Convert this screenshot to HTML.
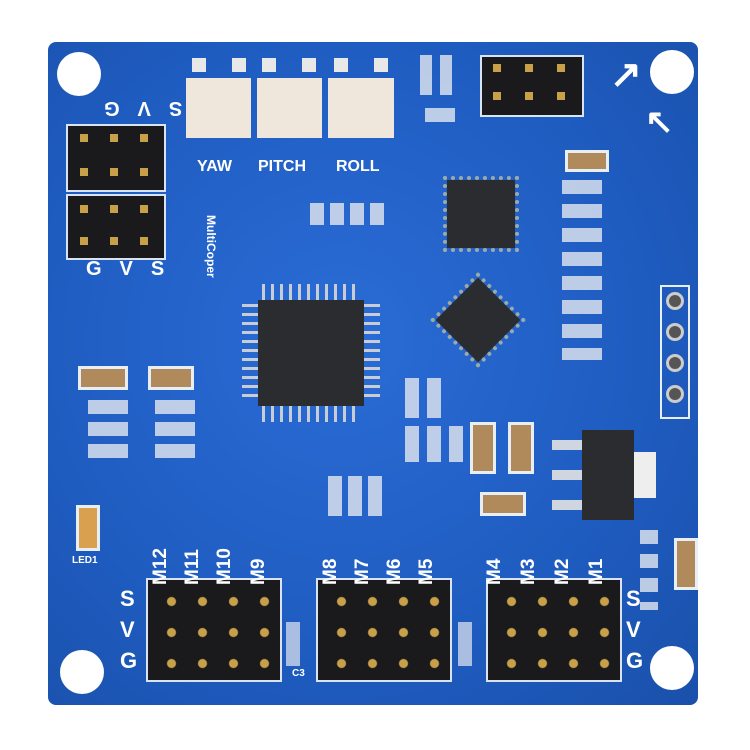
<!DOCTYPE html>
<html><head><style>
body{margin:0;background:#fff;}
#w{position:relative;width:750px;height:750px;overflow:hidden;background:#fff;font-family:"Liberation Sans",sans-serif;}
.a{position:absolute;}
.hole{position:absolute;width:44px;height:44px;border-radius:50%;background:#fff;}
.hdr{position:absolute;background:#1a1a1c;border:2px solid #d8e4f4;}
.pin{position:absolute;width:8px;height:8px;background:#c9a04a;}
.t{position:absolute;color:#fff;font-weight:bold;}
.chip{position:absolute;background:#2a2c30;}
.cap{position:absolute;background:#b08a5a;border:3px solid #e8eef6;}
.pot{position:absolute;background:#efe6dc;}
</style></head><body><div id="w">
<div class="a" style="left:48px;top:42px;width:650px;height:663px;background:radial-gradient(ellipse at 45% 45%,#2a6cd6 0%,#1f5cc0 60%,#1a50aa 100%);border-radius:8px;"></div>
<div class="hole" style="left:57px;top:52px"></div>
<div class="hole" style="left:650px;top:50px"></div>
<div class="hole" style="left:60px;top:650px"></div>
<div class="hole" style="left:650px;top:646px"></div>

<!-- pots -->
<div class="pot" style="left:186px;top:78px;width:65px;height:60px"></div>
<div class="pot" style="left:257px;top:78px;width:65px;height:60px"></div>
<div class="pot" style="left:328px;top:78px;width:66px;height:60px"></div>
<div class="a" style="left:192px;top:58px;width:56px;height:14px;background:repeating-linear-gradient(90deg,#e8e8e8 0 14px,transparent 14px 40px)"></div>
<div class="a" style="left:262px;top:58px;width:56px;height:14px;background:repeating-linear-gradient(90deg,#e8e8e8 0 14px,transparent 14px 40px)"></div>
<div class="a" style="left:334px;top:58px;width:56px;height:14px;background:repeating-linear-gradient(90deg,#e8e8e8 0 14px,transparent 14px 40px)"></div>
<div class="t" style="left:197px;top:158px;font-size:16px">YAW</div>
<div class="t" style="left:258px;top:158px;font-size:16px">PITCH</div>
<div class="t" style="left:336px;top:158px;font-size:16px">ROLL</div>

<!-- left header -->
<div class="hdr" style="left:66px;top:124px;width:96px;height:64px"></div>
<div class="hdr" style="left:66px;top:194px;width:96px;height:62px"></div>
<div class="pin" style="left:80px;top:134px"></div><div class="pin" style="left:110px;top:134px"></div><div class="pin" style="left:140px;top:134px"></div>
<div class="pin" style="left:80px;top:168px"></div><div class="pin" style="left:110px;top:168px"></div><div class="pin" style="left:140px;top:168px"></div>
<div class="pin" style="left:80px;top:205px"></div><div class="pin" style="left:110px;top:205px"></div><div class="pin" style="left:140px;top:205px"></div>
<div class="pin" style="left:80px;top:237px"></div><div class="pin" style="left:110px;top:237px"></div><div class="pin" style="left:140px;top:237px"></div>
<div class="t" style="left:86px;top:258px;font-size:20px;letter-spacing:18px">GVS</div>
<div class="t" style="left:86px;top:96px;font-size:20px;letter-spacing:18px;transform:rotate(180deg)">SVG</div>

<!-- top right header -->
<div class="hdr" style="left:480px;top:55px;width:100px;height:58px"></div>
<div class="pin" style="left:493px;top:64px"></div><div class="pin" style="left:525px;top:64px"></div><div class="pin" style="left:557px;top:64px"></div>
<div class="pin" style="left:493px;top:92px"></div><div class="pin" style="left:525px;top:92px"></div><div class="pin" style="left:557px;top:92px"></div>
<div class="t" style="left:610px;top:52px;font-size:38px">↗</div>
<div class="t" style="left:645px;top:102px;font-size:34px">↖</div>
<div class="a" style="left:420px;top:55px;width:12px;height:40px;background:#e4e8f0;opacity:.8"></div>
<div class="a" style="left:440px;top:55px;width:12px;height:40px;background:#e4e8f0;opacity:.8"></div>
<div class="a" style="left:425px;top:108px;width:30px;height:14px;background:#e4e8f0;opacity:.8"></div>

<!-- chips -->
<div class="chip" style="left:258px;top:300px;width:106px;height:106px"></div>
<div class="a" style="left:262px;top:284px;width:98px;height:16px;background:repeating-linear-gradient(90deg,#c8ccd4 0 3px,transparent 3px 9px)"></div>
<div class="a" style="left:262px;top:406px;width:98px;height:16px;background:repeating-linear-gradient(90deg,#c8ccd4 0 3px,transparent 3px 9px)"></div>
<div class="a" style="left:242px;top:304px;width:16px;height:98px;background:repeating-linear-gradient(180deg,#c8ccd4 0 3px,transparent 3px 9px)"></div>
<div class="a" style="left:364px;top:304px;width:16px;height:98px;background:repeating-linear-gradient(180deg,#c8ccd4 0 3px,transparent 3px 9px)"></div>
<div class="chip" style="left:447px;top:180px;width:68px;height:68px;outline:4px dotted #9aa"></div>
<div class="chip" style="left:448px;top:290px;width:60px;height:60px;transform:rotate(45deg);outline:4px dotted #9aa"></div>
<div class="chip" style="left:582px;top:430px;width:52px;height:90px"></div>
<div class="a" style="left:634px;top:452px;width:22px;height:46px;background:#eee"></div>
<div class="a" style="left:552px;top:440px;width:30px;height:10px;background:#cfd6e0"></div>
<div class="a" style="left:552px;top:470px;width:30px;height:10px;background:#cfd6e0"></div>
<div class="a" style="left:552px;top:500px;width:30px;height:10px;background:#cfd6e0"></div>

<!-- caps -->
<div class="cap" style="left:565px;top:150px;width:38px;height:16px"></div>
<div class="cap" style="left:78px;top:366px;width:44px;height:18px"></div>
<div class="cap" style="left:148px;top:366px;width:40px;height:18px"></div>
<div class="cap" style="left:470px;top:422px;width:20px;height:46px"></div>
<div class="cap" style="left:508px;top:422px;width:20px;height:46px"></div>
<div class="cap" style="left:480px;top:492px;width:40px;height:18px"></div>
<div class="cap" style="left:674px;top:538px;width:18px;height:46px"></div>
<div class="cap" style="left:76px;top:505px;width:18px;height:40px;background:#d9a050"></div>
<div class="a" style="left:562px;top:180px;width:40px;height:180px;background:repeating-linear-gradient(180deg,#e4e8f0 0 14px,transparent 14px 24px);opacity:.8"></div>
<div class="a" style="left:88px;top:400px;width:40px;height:66px;background:repeating-linear-gradient(180deg,#e4e8f0 0 14px,transparent 14px 22px);opacity:.8"></div>
<div class="a" style="left:155px;top:400px;width:40px;height:66px;background:repeating-linear-gradient(180deg,#e4e8f0 0 14px,transparent 14px 22px);opacity:.8"></div>
<div class="a" style="left:310px;top:203px;width:75px;height:22px;background:repeating-linear-gradient(90deg,#e4e8f0 0 14px,transparent 14px 20px);opacity:.8"></div>
<div class="a" style="left:328px;top:476px;width:56px;height:40px;background:repeating-linear-gradient(90deg,#e4e8f0 0 14px,transparent 14px 20px);opacity:.8"></div>
<div class="a" style="left:405px;top:378px;width:40px;height:40px;background:repeating-linear-gradient(90deg,#e4e8f0 0 14px,transparent 14px 22px);opacity:.8"></div>
<div class="a" style="left:405px;top:426px;width:58px;height:36px;background:repeating-linear-gradient(90deg,#e4e8f0 0 14px,transparent 14px 22px);opacity:.8"></div>
<div class="a" style="left:640px;top:530px;width:18px;height:80px;background:repeating-linear-gradient(180deg,#e4e8f0 0 14px,transparent 14px 24px);opacity:.8"></div>
<div class="a" style="left:286px;top:622px;width:14px;height:44px;background:#e4e8f0;opacity:.7"></div>
<div class="a" style="left:458px;top:622px;width:14px;height:44px;background:#e4e8f0;opacity:.7"></div>

<!-- 4 pin right -->
<div class="a" style="left:660px;top:285px;width:26px;height:130px;border:2px solid #e8eef6"></div>
<div class="a" style="left:666px;top:292px;width:12px;height:12px;border-radius:50%;border:3px solid #ccc;background:#555"></div>
<div class="a" style="left:666px;top:323px;width:12px;height:12px;border-radius:50%;border:3px solid #ccc;background:#555"></div>
<div class="a" style="left:666px;top:354px;width:12px;height:12px;border-radius:50%;border:3px solid #ccc;background:#555"></div>
<div class="a" style="left:666px;top:385px;width:12px;height:12px;border-radius:50%;border:3px solid #ccc;background:#555"></div>

<!-- bottom headers -->
<div class="hdr" style="left:146px;top:578px;width:132px;height:100px"></div>
<div class="hdr" style="left:316px;top:578px;width:132px;height:100px"></div>
<div class="hdr" style="left:486px;top:578px;width:132px;height:100px"></div>
<div class="a" style="left:156px;top:586px;width:124px;height:93px;background:radial-gradient(circle,#c9a04a 0 4px,transparent 5px) 0 0/31px 31px"></div>
<div class="a" style="left:326px;top:586px;width:124px;height:93px;background:radial-gradient(circle,#c9a04a 0 4px,transparent 5px) 0 0/31px 31px"></div>
<div class="a" style="left:496px;top:586px;width:124px;height:93px;background:radial-gradient(circle,#c9a04a 0 4px,transparent 5px) 0 0/31px 31px"></div>
<div class="t" style="left:120px;top:583px;font-size:22px;line-height:31px">S<br>V<br>G</div>
<div class="t" style="left:626px;top:583px;font-size:22px;line-height:31px">S<br>V<br>G</div>
<div class="t" style="left:150px;top:585px;font-size:19px;transform:rotate(-90deg);transform-origin:left top">M12</div>
<div class="t" style="left:182px;top:585px;font-size:19px;transform:rotate(-90deg);transform-origin:left top">M11</div>
<div class="t" style="left:214px;top:585px;font-size:19px;transform:rotate(-90deg);transform-origin:left top">M10</div>
<div class="t" style="left:248px;top:585px;font-size:19px;transform:rotate(-90deg);transform-origin:left top">M9</div>
<div class="t" style="left:320px;top:585px;font-size:19px;transform:rotate(-90deg);transform-origin:left top">M8</div>
<div class="t" style="left:352px;top:585px;font-size:19px;transform:rotate(-90deg);transform-origin:left top">M7</div>
<div class="t" style="left:384px;top:585px;font-size:19px;transform:rotate(-90deg);transform-origin:left top">M6</div>
<div class="t" style="left:416px;top:585px;font-size:19px;transform:rotate(-90deg);transform-origin:left top">M5</div>
<div class="t" style="left:484px;top:585px;font-size:19px;transform:rotate(-90deg);transform-origin:left top">M4</div>
<div class="t" style="left:518px;top:585px;font-size:19px;transform:rotate(-90deg);transform-origin:left top">M3</div>
<div class="t" style="left:552px;top:585px;font-size:19px;transform:rotate(-90deg);transform-origin:left top">M2</div>
<div class="t" style="left:586px;top:585px;font-size:19px;transform:rotate(-90deg);transform-origin:left top">M1</div>
<div class="t" style="left:72px;top:555px;font-size:10px">LED1</div>
<div class="t" style="left:292px;top:668px;font-size:10px">C3</div>
<div class="t" style="left:218px;top:215px;font-size:12px;transform:rotate(90deg);transform-origin:left top">MultiCoper</div>
</div></body></html>
